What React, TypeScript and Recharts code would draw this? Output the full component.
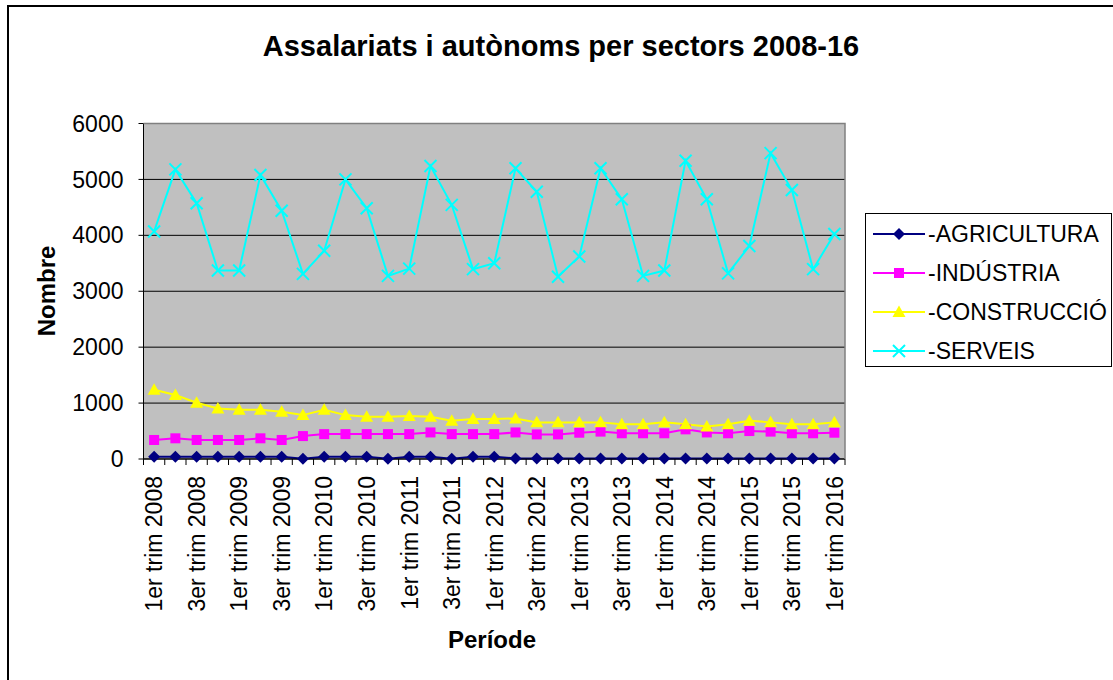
import { LineChart, Line, XAxis, YAxis, CartesianGrid } from 'recharts';

// Assalariats i autònoms per sectors 2008-16 (Excel-style line chart)

const FONT = '"Liberation Sans", Arial, sans-serif';

const periods = [
  '1er trim 2008', '2n trim 2008', '3er trim 2008', '4t trim 2008',
  '1er trim 2009', '2n trim 2009', '3er trim 2009', '4t trim 2009',
  '1er trim 2010', '2n trim 2010', '3er trim 2010', '4t trim 2010',
  '1er trim 2011', '2n trim 2011', '3er trim 2011', '4t trim 2011',
  '1er trim 2012', '2n trim 2012', '3er trim 2012', '4t trim 2012',
  '1er trim 2013', '2n trim 2013', '3er trim 2013', '4t trim 2013',
  '1er trim 2014', '2n trim 2014', '3er trim 2014', '4t trim 2014',
  '1er trim 2015', '2n trim 2015', '3er trim 2015', '4t trim 2015',
  '1er trim 2016',
];

const agricultura = [
  40, 40, 40, 40, 40, 40, 40, 5, 40, 40, 40, 5, 40, 40, 5, 40, 40,
  10, 10, 10, 10, 10, 10, 10, 10, 10, 10, 10, 10, 10, 10, 10, 10,
];
const industria = [
  340, 370, 340, 340, 340, 370, 340, 410, 445, 445, 445, 445, 445, 475, 445, 445, 445,
  475, 440, 440, 470, 490, 460, 460, 460, 530, 475, 460, 500, 490, 460, 460, 470,
];
const construccio = [
  1240, 1145, 1005, 905, 880, 880, 845, 785, 880, 785, 755, 755, 770, 755, 685, 715, 715,
  725, 655, 655, 655, 655, 620, 620, 655, 620, 580, 620, 685, 655, 620, 620, 655,
];
const serveis = [
  4070, 5180, 4575, 3370, 3370, 5080, 4440, 3310, 3725, 5000, 4485, 3275, 3405, 5240, 4545, 3395, 3500,
  5200, 4780, 3260, 3620, 5200, 4645, 3275, 3370, 5335, 4645, 3320, 3810, 5470, 4810, 3395, 4025,
];

const yTicks = [0, 1000, 2000, 3000, 4000, 5000, 6000];

const data = periods.map((p, i) => ({
  period: p,
  agri: agricultura[i],
  ind: industria[i],
  cons: construccio[i],
  serv: serveis[i],
}));

const W = 1113;
const H = 680;
const PLOT_LEFT = 143.5;
const PLOT_TOP = 123.5;
const PLOT_RIGHT = 845;
const PLOT_BOTTOM = 459;
const STEP = (PLOT_RIGHT - PLOT_LEFT) / periods.length;

type Shape = 'diamond' | 'square' | 'triangle' | 'cross';

function Marker({ cx, cy, shape, color }: { cx: number; cy: number; shape: Shape; color: string }) {
  if (cx == null || cy == null) return null;
  if (shape === 'diamond') {
    return <path d={`M${cx},${cy - 6}L${cx + 6},${cy}L${cx},${cy + 6}L${cx - 6},${cy}Z`} fill={color} />;
  }
  if (shape === 'square') {
    return <rect x={cx - 5} y={cy - 5} width={10} height={10} fill={color} />;
  }
  if (shape === 'triangle') {
    return <path d={`M${cx},${cy - 6.5}L${cx + 6.5},${cy + 5}L${cx - 6.5},${cy + 5}Z`} fill={color} />;
  }
  return (
    <path
      d={`M${cx - 6},${cy - 6}L${cx + 6},${cy + 6}M${cx - 6},${cy + 6}L${cx + 6},${cy - 6}`}
      stroke={color}
      strokeWidth={2}
      fill="none"
    />
  );
}

const series: { key: string; name: string; color: string; shape: Shape }[] = [
  { key: 'agri', name: '-AGRICULTURA', color: '#000080', shape: 'diamond' },
  { key: 'ind', name: '-INDÚSTRIA', color: '#FF00FF', shape: 'square' },
  { key: 'cons', name: '-CONSTRUCCIÓ', color: '#FFFF00', shape: 'triangle' },
  { key: 'serv', name: '-SERVEIS', color: '#00FFFF', shape: 'cross' },
];

function PeriodTick(props: any) {
  const { x, y, payload, index } = props;
  const half = STEP / 2;
  return (
    <g>
      <line x1={x - half} y1={y} x2={x - half} y2={y + 6} stroke="#000" />
      {index === periods.length - 1 && <line x1={x + half} y1={y} x2={x + half} y2={y + 6} stroke="#000" />}
      {index % 2 === 0 && (
        <text
          transform={`translate(${x},${y}) rotate(-90)`}
          x={-17}
          dy="0.36em"
          textAnchor="end"
          fontSize={23}
          fontFamily={FONT}
          fill="#000"
        >
          {payload.value}
        </text>
      )}
    </g>
  );
}

function LegendBox() {
  return (
    <div
      style={{
        position: 'absolute',
        left: 865,
        top: 213,
        width: 247,
        height: 154,
        border: '1.5px solid #000',
        boxSizing: 'border-box',
        background: '#fff',
      }}
    >
      {series.map((s, i) => (
        <div
          key={s.key}
          style={{ position: 'absolute', left: 7, top: 6 + i * 39, height: 28, display: 'flex', alignItems: 'center' }}
        >
          <svg width={52} height={28}>
            <line x1={0} y1={14} x2={52} y2={14} stroke={s.color} strokeWidth={2} />
            <Marker cx={26} cy={14} shape={s.shape} color={s.color} />
          </svg>
          <span style={{ fontSize: 23, fontFamily: FONT, color: '#000', marginLeft: 3, lineHeight: '28px' }}>
            {s.name}
          </span>
        </div>
      ))}
    </div>
  );
}

export default function App() {
  return (
    <div
      style={{
        position: 'fixed',
        left: 0,
        top: 0,
        width: W,
        height: H,
        overflow: 'hidden',
        background: '#fff',
        fontFamily: FONT,
      }}
    >
      <div
        style={{
          position: 'absolute',
          left: 7,
          top: 5,
          width: W + 20,
          height: H + 20,
          border: '2px solid #000',
        }}
      />
      <div style={{ position: 'absolute', left: 0, top: 0 }}>
        <LineChart
          width={W}
          height={H}
          data={data}
          margin={{ top: PLOT_TOP, right: W - PLOT_RIGHT, bottom: 0, left: 0 }}
        >
          <CartesianGrid vertical={false} stroke="#000" fill="#C0C0C0" fillOpacity={1} />
          <XAxis
            dataKey="period"
            interval={0}
            height={H - PLOT_BOTTOM}
            tickSize={0}
            tickMargin={0}
            tickLine={false}
            axisLine={{ stroke: '#000' }}
            padding={{ left: STEP / 2, right: STEP / 2 }}
            tick={<PeriodTick />}
          />
          <YAxis
            width={PLOT_LEFT}
            domain={[0, 6000]}
            ticks={yTicks}
            interval={0}
            tickSize={5}
            tickMargin={15}
            tickLine={{ stroke: '#000' }}
            axisLine={{ stroke: '#000' }}
            tick={{ fontSize: 23, fill: '#000', fontFamily: FONT }}
          />
          {series.map((s) => (
            <Line
              key={s.key}
              type="linear"
              dataKey={s.key}
              name={s.name}
              stroke={s.color}
              strokeWidth={2}
              isAnimationActive={false}
              activeDot={false}
              dot={(p: any) => <Marker key={`${s.key}-${p.index}`} cx={p.cx} cy={p.cy} shape={s.shape} color={s.color} />}
            />
          ))}
        </LineChart>
      </div>
      <svg width={W} height={H} style={{ position: 'absolute', left: 0, top: 0, pointerEvents: 'none' }}>
        <polyline
          points={`${PLOT_LEFT},${PLOT_TOP} ${PLOT_RIGHT},${PLOT_TOP} ${PLOT_RIGHT},${PLOT_BOTTOM}`}
          fill="none"
          stroke="#808080"
          strokeWidth={1.5}
        />
        <text x={561} y={56} textAnchor="middle" fontSize={29} fontWeight="bold" fontFamily={FONT} fill="#000">
          Assalariats i autònoms per sectors 2008-16
        </text>
        <text
          transform="translate(55,291) rotate(-90)"
          textAnchor="middle"
          fontSize={24}
          fontWeight="bold"
          fontFamily={FONT}
          fill="#000"
        >
          Nombre
        </text>
        <text x={492} y={648} textAnchor="middle" fontSize={24} fontWeight="bold" fontFamily={FONT} fill="#000">
          Període
        </text>
      </svg>
      <LegendBox />
    </div>
  );
}
